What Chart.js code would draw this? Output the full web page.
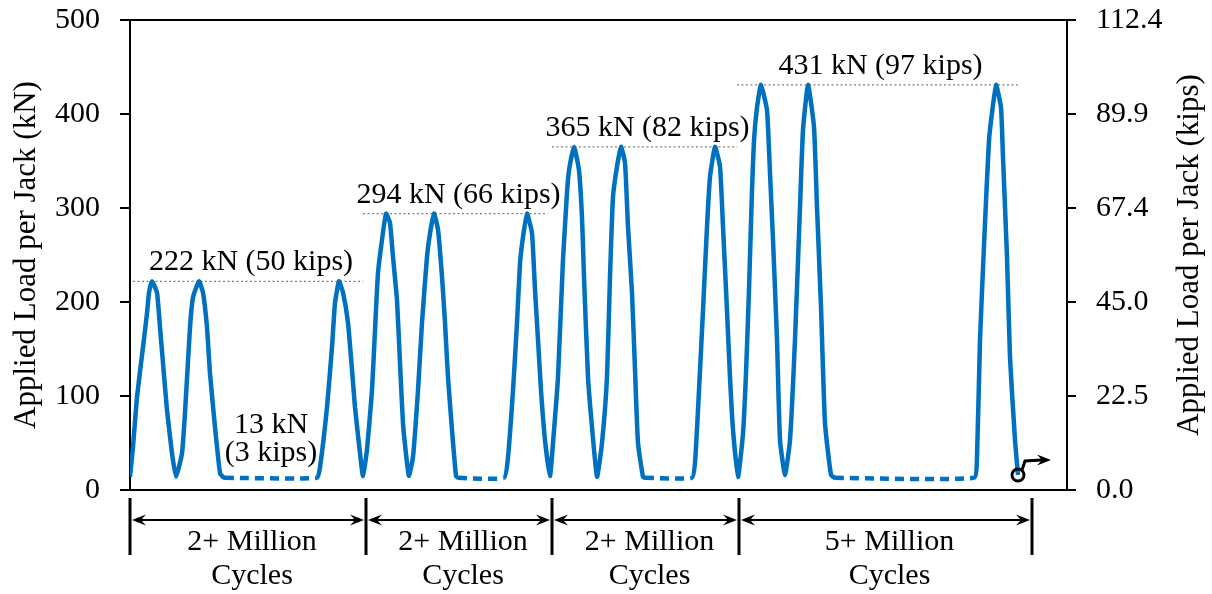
<!DOCTYPE html>
<html><head><meta charset="utf-8">
<script src="https://cdn.jsdelivr.net/npm/chart.js@4.4.0/dist/chart.umd.min.js"></script>
<style>html,body{margin:0;padding:0;background:#fff;}canvas{display:block;}</style>
</head><body>
<canvas id="c" width="1212" height="594"></canvas>
<script>
// ---- data (time in arbitrary units, load in kN) ----
const group1Time=[0,3,7,13,17,19,22,27,30,33,37,42,46,52,55,60,63,69,73,77,80,85,90,93,95,187,190,197,202,205,209,213,218,222,225,230,233];
const group1Load=[14,46,99,152,188,210,222,210,173,135,85,39,14,39,82,173,205,222,210,173,124,67,18,14,13,13,24,88,152,199,222,210,178,128,88,39,15];
const group2Time=[237,242,245,248,252,256,260,263,267,270,273,277,279,283,288,292,297,300,304,308,312,315,318,322,326,328,374,378,383,387,390,393,397,402,405,408,411,415,420];
const group2Load=[43,106,170,231,266,294,284,248,202,135,71,29,15,35,106,178,248,273,294,277,227,178,120,64,15,13,13,35,106,178,241,269,294,273,213,160,106,53,15];
const group3Time=[423,428,433,437,439,444,449,452,454,458,462,467,472,477,480,483,487,491,495,498,502,505,508,513,515,562,565,568,573,577,580,585,590,593,597,600,603,608];
const group3Load=[50,120,245,316,340,365,340,290,227,120,67,14,50,120,227,312,344,365,348,280,210,128,50,14,13,13,29,85,191,280,333,365,344,280,191,120,64,14];
const group4Time=[613,616,619,622,624,627,631,637,640,643,647,650,655,660,665,670,673,678,684,687,691,695,701,705,844,847,850,855,859,862,866,871,873,877,880,885,888];
const group4Load=[60,124,213,319,372,407,431,404,337,266,160,53,16,53,160,301,383,431,386,301,195,71,16,13,13,35,160,284,372,401,431,407,354,248,141,53,16];
const dwellLoad=13;
const levelKN=[222,294,365,431];
const levelStart=[3,233,422,607];
const levelEnd=[233,418,607,888];
const levelLabels=['222 kN (50 kips)','294 kN (66 kips)','365 kN (82 kips)','431 kN (97 kips)'];
const dwellLabels=['13 kN','(3 kips)'];
const dwellSpan=[95,187];
const stageBounds=[0,236,422,609,902];
const stageLabels=[['2+ Million','Cycles'],['2+ Million','Cycles'],['2+ Million','Cycles'],['5+ Million','Cycles']];
const leftTickLabels=['0','100','200','300','400','500'];
const rightTickLabels=['0.0','22.5','45.0','67.4','89.9','112.4'];
const kipsPerKN=0.224809;
const leftTitle='Applied Load per Jack (kN)';
const rightTitle='Applied Load per Jack (kips)';

const times=[].concat(group1Time,group2Time,group3Time,group4Time);
const loads=[].concat(group1Load,group2Load,group3Load,group4Load);
const curve=times.map((t,i)=>({x:t,y:loads[i]}));

const FONT='"Liberation Serif","Times New Roman",serif';
const BLUE='#0070c0';

const levelSets=levelKN.map((v,i)=>({
  data:[{x:levelStart[i],y:v},{x:levelEnd[i],y:v}],
  borderColor:'#7f7f7f',borderWidth:1.3,borderDash:[2,2.5],
  pointRadius:0,order:3,tension:0
}));

function arrowHead(ctx,x,y,dir){
  ctx.beginPath();
  ctx.moveTo(x,y);
  ctx.lineTo(x-dir*14,y-5.5);
  ctx.lineTo(x-dir*9,y);
  ctx.lineTo(x-dir*14,y+5.5);
  ctx.closePath();
  ctx.fill();
}

const deco={
  id:'deco',
  afterDraw(chart){
    const ctx=chart.ctx, a=chart.chartArea, xs=chart.scales.x, ys=chart.scales.y;
    ctx.save();
    ctx.strokeStyle='#000';ctx.lineWidth=2;
    ctx.beginPath();ctx.moveTo(a.left-10,a.top);ctx.lineTo(a.right,a.top);ctx.stroke();
    ctx.beginPath();ctx.moveTo(a.left-10,a.bottom);ctx.lineTo(a.right+9,a.bottom);ctx.stroke();
    // axis titles
    ctx.fillStyle='#000';ctx.font='31px '+FONT;ctx.textAlign='center';ctx.textBaseline='middle';
    ctx.save();ctx.translate(27,(a.top+a.bottom)/2);ctx.rotate(-Math.PI/2);ctx.fillText(leftTitle,0,0);ctx.restore();
    ctx.save();ctx.translate(1190,(a.top+a.bottom)/2);ctx.rotate(-Math.PI/2);ctx.fillText(rightTitle,0,0);ctx.restore();
    // level labels
    ctx.font='30px '+FONT;ctx.textBaseline='alphabetic';
    levelKN.forEach((v,i)=>{
      const cx=(xs.getPixelForValue(levelStart[i])+xs.getPixelForValue(levelEnd[i]))/2;
      ctx.fillText(levelLabels[i],cx+3,ys.getPixelForValue(v)-11);
    });
    // dwell label
    const dcx=(xs.getPixelForValue(dwellSpan[0])+xs.getPixelForValue(dwellSpan[1]))/2;
    const dy=ys.getPixelForValue(dwellLoad);
    ctx.fillText(dwellLabels[0],dcx,dy-45);
    ctx.fillText(dwellLabels[1],dcx,dy-17);
    // stage brackets
    const yTop=a.bottom+8, yBot=a.bottom+65, yArr=a.bottom+30;
    ctx.lineWidth=3;
    stageBounds.forEach(b=>{
      const px=xs.getPixelForValue(b);
      ctx.beginPath();ctx.moveTo(px,yTop);ctx.lineTo(px,yBot);ctx.stroke();
    });
    ctx.lineWidth=2;ctx.fillStyle='#000';
    for(let i=0;i<stageBounds.length-1;i++){
      const x0=xs.getPixelForValue(stageBounds[i])+2, x1=xs.getPixelForValue(stageBounds[i+1])-2;
      ctx.beginPath();ctx.moveTo(x0+6,yArr);ctx.lineTo(x1-6,yArr);ctx.stroke();
      arrowHead(ctx,x0,yArr,-1);arrowHead(ctx,x1,yArr,1);
      const cx=(x0+x1)/2+4;
      ctx.font='30px '+FONT;
      ctx.fillText(stageLabels[i][0],cx,a.bottom+60);
      ctx.fillText(stageLabels[i][1],cx,a.bottom+94);
    }
    // continuation arrow at end of record
    const ex=xs.getPixelForValue(times[times.length-1]), ey=ys.getPixelForValue(loads[loads.length-1]);
    ctx.lineWidth=3;
    ctx.beginPath();ctx.moveTo(ex+4,ey-5);ctx.lineTo(ex+7,ey-14);ctx.lineTo(ex+24,ey-15);ctx.stroke();
    arrowHead(ctx,ex+33,ey-15,1);
    ctx.restore();
  }
};

function fitLeft(s){s.width=130;s.paddingTop=0;s.paddingBottom=0;}
function fitRight(s){s.width=145;s.paddingTop=0;s.paddingBottom=0;}

new Chart(document.getElementById('c'),{
  type:'line',
  data:{datasets:[
    {data:curve,borderColor:BLUE,borderWidth:4.5,pointRadius:0,tension:0.15,order:1,
     borderJoinStyle:'round',borderCapStyle:'butt',
     segment:{borderDash:c=>(c.p0.parsed.y===dwellLoad&&c.p1.parsed.y===dwellLoad)?[9,6]:undefined}},
    {data:[curve[curve.length-1]],showLine:false,pointRadius:6,pointBorderWidth:3,
     pointBorderColor:'#000',pointBackgroundColor:'rgba(255,255,255,0)',order:0},
    ...levelSets
  ]},
  options:{
    responsive:false,animation:false,devicePixelRatio:1,
    layout:{padding:{top:20,bottom:104,left:0,right:0}},
    plugins:{legend:{display:false},tooltip:{enabled:false}},
    scales:{
      x:{type:'linear',min:0,max:937,display:false},
      y:{position:'left',min:0,max:500,
         ticks:{stepSize:100,color:'#000',font:{family:FONT,size:30},padding:20,
                callback:(v,i)=>leftTickLabels[i]},
         grid:{drawOnChartArea:false,drawTicks:true,tickLength:10,color:'#000',lineWidth:2},
         border:{display:true,color:'#000',width:2},
         afterFit:fitLeft},
      y2:{position:'right',min:0,max:500*kipsPerKN,
         afterBuildTicks:s=>{s.ticks=rightTickLabels.map((l,i)=>({value:i*s.max/(rightTickLabels.length-1)}));},
         ticks:{color:'#000',font:{family:FONT,size:30},padding:20,
                callback:(v,i)=>rightTickLabels[i]},
         grid:{drawOnChartArea:false,drawTicks:true,tickLength:9,color:'#000',lineWidth:2},
         border:{display:true,color:'#000',width:2},
         afterFit:fitRight}
    }
  },
  plugins:[deco]
});
</script>
</body></html>
